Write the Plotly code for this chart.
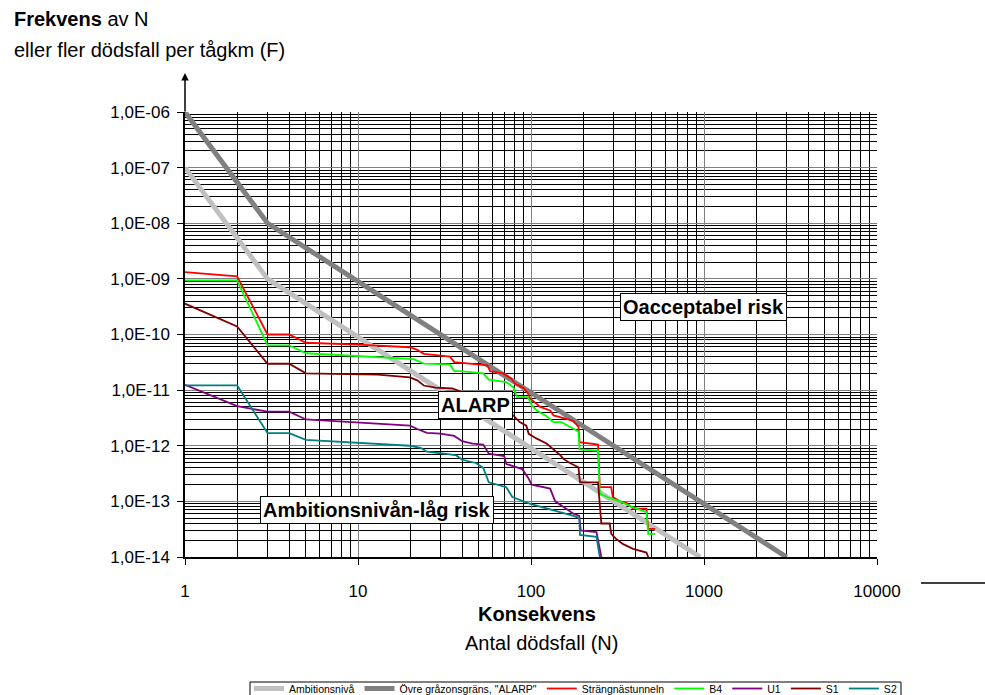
import plotly.graph_objects as go

# ---- data -----------------------------------------------------------------
# Criteria lines (N, F)
N_ambition = [1, 3, 950]
F_ambition = [1e-7, 1e-9, 1e-14]
N_alarp = [1, 3, 3000]
F_alarp = [1e-6, 1e-8, 1e-14]

# F/N curves per section
N_strangnas = [1, 2, 3, 4, 5, 10, 20, 22, 24, 34, 36, 44, 56, 58, 69, 77, 81, 90, 96, 99,
               107, 113, 129, 135, 160, 175, 188, 191, 244, 250, 291, 297, 326, 356, 390, 465, 476, 522]
F_strangnas = [1.32e-9, 1.11e-9, 1.0e-10, 1.0e-10, 7.1e-11, 6.6e-11, 5.9e-11, 5.3e-11, 4.5e-11, 4.0e-11,
               3.2e-11, 3.05e-11, 2.8e-11, 2.2e-11, 2.0e-11, 1.6e-11, 1.3e-11, 1.11e-11, 8.8e-12, 7.0e-12,
               5.7e-12, 5.0e-12, 4.3e-12, 3.5e-12, 3.05e-12, 2.8e-12, 2.2e-12, 1.16e-12, 1.05e-12, 1.8e-13,
               1.8e-13, 1.2e-13, 1.0e-13, 9.4e-14, 7.4e-14, 7.4e-14, 3.2e-14, 3.2e-14]

N_b4 = [1, 2, 3, 4, 5, 15, 21, 24, 34, 36, 39, 53, 57, 72, 79, 83, 96, 101, 108, 123,
        135, 150, 168, 188, 191, 244, 250, 285, 326, 389, 465, 476, 522]
F_b4 = [9.4e-10, 9.4e-10, 6.4e-11, 6.4e-11, 4.6e-11, 3.8e-11, 3.6e-11, 3.0e-11, 2.9e-11, 2.2e-11,
        2.2e-11, 2.0e-11, 1.54e-11, 1.4e-11, 1.13e-11, 7.5e-12, 7.5e-12, 5.3e-12, 4.3e-12, 3.4e-12,
        2.66e-12, 2.66e-12, 2.16e-12, 1.8e-12, 8.6e-13, 8.2e-13, 1.37e-13, 1.15e-13, 1.0e-13, 7.8e-14,
        6.4e-14, 2.6e-14, 2.6e-14]

N_u1 = [1, 2, 3, 4, 5, 20, 22, 25, 30, 36, 40, 46, 53, 57, 70, 72, 89, 96, 101, 129,
        138, 150, 176, 190, 194, 239, 244, 255]
F_u1 = [1.25e-11, 5.15e-12, 4.1e-12, 4.1e-12, 2.97e-12, 2.3e-12, 2.0e-12, 1.7e-12, 1.65e-12, 1.5e-12,
        1.21e-12, 1.09e-12, 1.05e-12, 7.2e-13, 6.5e-13, 4.7e-13, 3.8e-13, 2.7e-13, 2.0e-13, 1.7e-13,
        1.0e-13, 8.5e-14, 6.0e-14, 5.5e-14, 3.0e-14, 2.8e-14, 2.0e-14, 1.0e-14]

N_s1 = [1, 2, 3, 4, 5, 13, 20, 22, 24, 28, 35, 39, 48, 60, 70, 79, 86, 94, 97, 108,
        123, 138, 148, 154, 168, 188, 192, 244, 250, 255, 285, 291, 311, 341, 389, 465, 476]
F_s1 = [3.58e-10, 1.4e-10, 2.98e-11, 2.98e-11, 2.0e-11, 1.9e-11, 1.7e-11, 1.5e-11, 1.21e-11, 1.11e-11,
        1.07e-11, 9.5e-12, 7.5e-12, 5.5e-12, 4.2e-12, 3.5e-12, 2.66e-12, 2.3e-12, 1.64e-12, 1.34e-12,
        1.1e-12, 8.2e-13, 6.7e-13, 5.8e-13, 4.9e-13, 4.1e-13, 2.2e-13, 2.2e-13, 1.0e-13, 4.0e-14,
        4.0e-14, 2.6e-14, 2.1e-14, 1.7e-14, 1.4e-14, 1.2e-14, 1.0e-14]

N_s2 = [1, 2, 3, 4, 5, 16, 20, 23, 25, 34, 37, 40, 48, 53, 57, 72, 78, 99, 135, 176,
        190, 192, 239, 250]
F_s2 = [1.22e-11, 1.22e-11, 1.69e-12, 1.69e-12, 1.28e-12, 1.05e-12, 1.0e-12, 9.2e-13, 7.8e-13, 7.0e-13,
        6.7e-13, 5.6e-13, 4.9e-13, 4.0e-13, 2.2e-13, 1.8e-13, 1.2e-13, 9.0e-14, 7.0e-14, 5.5e-14,
        5.0e-14, 2.5e-14, 2.3e-14, 1.0e-14]

# Axis ticks
x_tickvals = [1, 10, 100, 1000, 10000]
x_ticktext = ["1", "10", "100", "1000", "10000"]
y_tickvals = [1e-6, 1e-7, 1e-8, 1e-9, 1e-10, 1e-11, 1e-12, 1e-13, 1e-14]
y_ticktext = ["1,0E-06", "1,0E-07", "1,0E-08", "1,0E-09", "1,0E-10",
              "1,0E-11", "1,0E-12", "1,0E-13", "1,0E-14"]

# ---- layout geometry --------------------------------------------------------
W, H = 985, 695
L, R, T, B = 185, 108, 112, 138
PW, PH = W - L - R, H - T - B


def px_x(px):
    return (px - L) / PW


def px_y(py):
    return (H - B - py) / PH


FONT = "Liberation Sans, Arial, sans-serif"

x_minor = [m * 10 ** k for k in range(0, 4) for m in range(2, 10)]
y_minor = [m * 10.0 ** k for k in range(-14, -6) for m in range(2, 10)]

fig = go.Figure()

series = [
    ("Ambitionsnivå", N_ambition, F_ambition, "#C0C0C0", 5),
    ('Övre gråzonsgräns, "ALARP"', N_alarp, F_alarp, "#808080", 5),
    ("Strängnästunneln", N_strangnas, F_strangnas, "#FF0000", 1.8),
    ("B4", N_b4, F_b4, "#00FF00", 1.8),
    ("U1", N_u1, F_u1, "#800080", 1.8),
    ("S1", N_s1, F_s1, "#800000", 1.8),
    ("S2", N_s2, F_s2, "#008080", 1.8),
]
for name, xs, ys, color, width in series:
    fig.add_trace(go.Scatter(x=xs, y=ys, mode="lines", name=name,
                             line=dict(color=color, width=width)))

axis_common = dict(
    type="log", tickmode="array", showline=True, linecolor="black", linewidth=1.5,
    ticks="outside", ticklen=6, tickcolor="black", tickwidth=1,
    showgrid=True, gridcolor="#808080", gridwidth=1.2,
    tickfont=dict(family=FONT, size=17, color="black"),
    zeroline=False, automargin=False,
)

fig.update_xaxes(
    **axis_common, range=[0, 4], tickvals=x_tickvals, ticktext=x_ticktext,
    ticklabelstandoff=12,
    minor=dict(tickvals=x_minor, showgrid=True, gridcolor="black", gridwidth=1, ticks=""),
)
fig.update_yaxes(
    **axis_common, range=[-14, -6], tickvals=y_tickvals, ticktext=y_ticktext,
    ticklabelstandoff=4,
    minor=dict(tickvals=y_minor, showgrid=True, gridcolor="black", gridwidth=1, ticks=""),
)

TITLE_FONT = dict(family=FONT, size=20, color="black")
annotations = [
    dict(text="<b>Frekvens</b> av N", x=px_x(12), y=px_y(19), xanchor="left", yanchor="middle",
         font=TITLE_FONT),
    dict(text="eller fler dödsfall per tågkm (F)", x=px_x(12), y=px_y(50), xanchor="left",
         yanchor="middle", font=TITLE_FONT),
    dict(text="<b>Konsekvens</b>", x=px_x(537), y=px_y(614), xanchor="center", yanchor="middle",
         font=TITLE_FONT),
    dict(text="Antal dödsfall (N)", x=px_x(541), y=px_y(643), xanchor="center", yanchor="middle",
         font=TITLE_FONT),
]
for text, cx, cy in [("Oacceptabel risk", 703.5, 307), ("ALARP", 475, 404.5),
                     ("Ambitionsnivån-låg risk", 377, 510)]:
    annotations.append(dict(
        text="<b>" + text + "</b>", x=px_x(cx), y=px_y(cy), xanchor="center", yanchor="middle",
        bgcolor="white", bordercolor="black", borderwidth=1, borderpad=2,
        font=dict(family=FONT, size=20, color="black")))

# Arrow on top of the y axis
annotations.append(dict(text="", x=0, y=px_y(73), ax=0, ay=40, showarrow=True,
                        arrowhead=2, arrowsize=1, arrowwidth=1.5, arrowcolor="black"))

for a in annotations:
    a.setdefault("xref", "paper")
    a.setdefault("yref", "paper")
    a.setdefault("showarrow", False)

shapes = [
    # continuation line right of the x axis labels
    dict(type="line", xref="paper", yref="paper",
         x0=px_x(921), x1=px_x(985), y0=px_y(583), y1=px_y(583),
         line=dict(color="black", width=1.5)),
    # legend frame (runs past the bottom edge of the page)
    dict(type="rect", xref="paper", yref="paper",
         x0=px_x(250), x1=px_x(901), y0=px_y(682), y1=px_y(705),
         line=dict(color="black", width=1), fillcolor="white", layer="above"),
]

fig.update_layout(
    width=W, height=H,
    margin=dict(l=L, r=R, t=T, b=B, autoexpand=False),
    paper_bgcolor="white", plot_bgcolor="white",
    font=dict(family=FONT, color="black"),
    annotations=annotations,
    shapes=shapes,
    showlegend=True,
    legend=dict(orientation="h", x=px_x(902), y=px_y(674), xanchor="right", yanchor="top",
                borderwidth=0, bgcolor="rgba(0,0,0,0)",
                font=dict(family=FONT, size=10.5, color="black"),
                itemwidth=30, tracegroupgap=0),
)

fig.write_html("out.html")
